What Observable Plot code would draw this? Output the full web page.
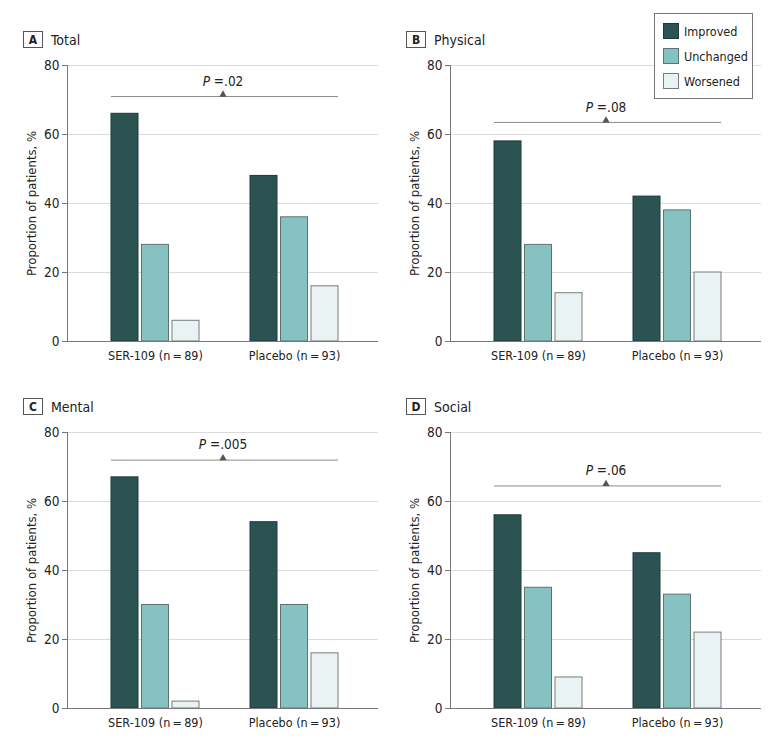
<!DOCTYPE html>
<html><head><meta charset="utf-8">
<script src="https://cdn.jsdelivr.net/npm/d3@7"></script>
<script src="https://cdn.jsdelivr.net/npm/@observablehq/plot@0.6"></script>
<style>
body{margin:0;background:#fff;font-family:"DejaVu Sans Condensed","Liberation Sans",Arial,sans-serif;color:#222}
#root{position:relative;width:780px;height:742px;overflow:hidden;background:#fff}
.panel{position:absolute;width:390px;height:375px}
.panel svg{position:absolute;left:0;top:0;overflow:visible}
.title{position:absolute;left:23px;top:31px;display:flex;align-items:center;font-size:14px;color:#222;z-index:2}
.box{box-sizing:border-box;width:20px;height:17px;border:1px solid #555;display:flex;align-items:center;justify-content:center;font-weight:bold;font-size:12px;margin-right:8px}
#legend{position:absolute;left:654px;top:13px;width:99px;height:86px;box-sizing:border-box;border:1px solid #777;background:#fff;z-index:3;padding:9px 0 0 8px}
.lrow{display:flex;align-items:center;height:16px;margin-bottom:9px;font-size:12.5px}
.sw{box-sizing:border-box;width:16px;height:16px;margin-right:5px;border:1px solid #666}
</style></head>
<body><div id="root"></div>
<script>
const panelLetters = ["A", "B", "C", "D"];
const panelTitles = ["Total", "Physical", "Mental", "Social"];
const groups = ["SER-109 (n\u2009=\u200989)", "Placebo (n\u2009=\u200993)"];
const statuses = ["Improved", "Unchanged", "Worsened"];
const serValues = [[66, 28, 6], [58, 28, 14], [67, 30, 2], [56, 35, 9]];
const placeboValues = [[48, 36, 16], [42, 38, 20], [54, 30, 16], [45, 33, 22]];
const pValues = [".02", ".08", ".005", ".06"];
const bracketLevels = [71, 63.5, 72, 64.5];
const yTicks = [0, 20, 40, 60, 80];
const yLabel = "Proportion of patients, %";

const fills = ["#2a5352", "#85c2c1", "#e9f3f4"];
const strokes = ["#1c3a3a", "#5e7474", "#7a7a7a"];
const barW = 27, barGap = 3.5;
const FONT = '"DejaVu Sans Condensed", "Liberation Sans", Arial, sans-serif';

const root = document.getElementById("root");

function makePanel(k) {
  const rows = [];
  statuses.forEach((s, j) => {
    rows.push({group: groups[0], status: s, value: serValues[k][j]});
    rows.push({group: groups[1], status: s, value: placeboValues[k][j]});
  });
  const bracket = [{x1: groups[0], x2: groups[1], y: bracketLevels[k], label: "P =" + pValues[k]}];
  const barMarks = statuses.map((s, j) => Plot.barY(rows.filter(r => r.status === s), {
    x: "group", y: "value", fill: fills[j], stroke: strokes[j], strokeWidth: 1,
    insetLeft: j * (barW + barGap), insetRight: (2 - j) * (barW + barGap)
  }));
  const svg = Plot.plot({
    width: 390, height: 375, marginTop: 65, marginBottom: 34, marginLeft: 67, marginRight: 12,
    style: {fontFamily: FONT, fontSize: "13px", color: "#222", background: "transparent", overflow: "visible"},
    x: {domain: groups, paddingInner: 0.367, paddingOuter: 0.302, align: 0.524, label: null},
    y: {domain: [0, 80], label: null},
    marks: [
      Plot.ruleY(yTicks.filter(v => v > 0), {stroke: "#dadada", strokeWidth: 1}),
      Plot.frame({anchor: "left", stroke: "#777"}),
      Plot.axisY({ticks: yTicks, tickSize: 5, tickPadding: 3, fontSize: 13.5, stroke: "#777", label: null}),
      Plot.text([yLabel], {frameAnchor: "left", textAnchor: "middle", rotate: -90, dx: -36, fontSize: 13, text: d => d}),
      Plot.axisX({tickSize: 0, tickPadding: 10, fontSize: 12.5, label: null}),
      ...barMarks,
      Plot.ruleY([0], {stroke: "#777"}),
      Plot.ruleY(bracket, {x1: "x1", x2: "x2", y: "y", stroke: "#8a8a8a"}),
      Plot.dot(bracket, {y: "y", symbol: "triangle", r: 2.7, fill: "#555", stroke: "none", dy: -2}),
      Plot.text(bracket, {y: "y", text: "label", dy: -15, fontSize: 13.5, lineAnchor: "middle"})
    ]
  });
  // italic P
  svg.querySelectorAll("text").forEach(t => {
    const s = t.textContent;
    if (s.startsWith("P =")) {
      t.textContent = "";
      const ts = document.createElementNS("http://www.w3.org/2000/svg", "tspan");
      ts.setAttribute("font-style", "italic");
      ts.textContent = "P";
      t.appendChild(ts);
      t.appendChild(document.createTextNode(s.slice(1)));
    }
  });
  const div = document.createElement("div");
  div.className = "panel";
  div.style.left = (k % 2 === 0 ? 0 : 383) + "px";
  div.style.top = (k < 2 ? 0 : 367) + "px";
  div.appendChild(svg);
  const title = document.createElement("div");
  title.className = "title";
  const box = document.createElement("div");
  box.className = "box";
  box.textContent = panelLetters[k];
  title.appendChild(box);
  const tt = document.createElement("span");
  tt.textContent = panelTitles[k];
  title.appendChild(tt);
  div.appendChild(title);
  root.appendChild(div);
}
[0, 1, 2, 3].forEach(makePanel);

const legend = document.createElement("div");
legend.id = "legend";
statuses.forEach((s, j) => {
  const row = document.createElement("div");
  row.className = "lrow";
  const sw = document.createElement("div");
  sw.className = "sw";
  sw.style.background = fills[j];
  sw.style.borderColor = strokes[j];
  row.appendChild(sw);
  const lab = document.createElement("span");
  lab.textContent = s;
  row.appendChild(lab);
  legend.appendChild(row);
});
root.appendChild(legend);
</script></body></html>
